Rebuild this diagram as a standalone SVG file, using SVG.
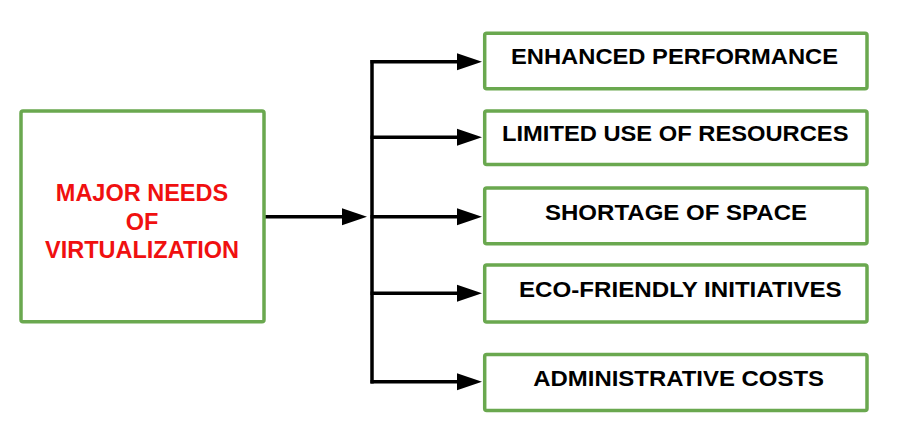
<svg xmlns="http://www.w3.org/2000/svg" width="912" height="446" viewBox="0 0 912 446">
<style>
.box{fill:#fff;stroke:#6aa84f;stroke-width:3.5}
.lbl{font-family:"Liberation Sans",Arial,sans-serif;font-weight:bold;font-size:22.5px;fill:#000}
.main{font-family:"Liberation Sans",Arial,sans-serif;font-weight:bold;font-size:23.5px;fill:#f01010;text-anchor:middle}
.conn{stroke:#000;stroke-width:3.5;fill:none}
</style>
<defs>
<marker id="ah" markerUnits="userSpaceOnUse" markerWidth="26" markerHeight="18" refX="5" refY="8.5" orient="auto" viewBox="0 0 26 17">
<path d="M0,0 L25,8.5 L0,17 z" fill="#000"/>
</marker>
</defs>
<rect width="912" height="446" fill="#fff"/>
<g id="connectors">
<line class="conn" x1="264" y1="216.7" x2="347" y2="216.7" marker-end="url(#ah)"/>
<line class="conn" x1="372" y1="60" x2="372" y2="383.5"/>
<line class="conn" x1="370.5" y1="61.7" x2="462" y2="61.7" marker-end="url(#ah)"/>
<line class="conn" x1="370.5" y1="137.3" x2="462" y2="137.3" marker-end="url(#ah)"/>
<line class="conn" x1="370.5" y1="216.7" x2="462" y2="216.7" marker-end="url(#ah)"/>
<line class="conn" x1="370.5" y1="293.3" x2="462" y2="293.3" marker-end="url(#ah)"/>
<line class="conn" x1="370.5" y1="381.7" x2="462" y2="381.7" marker-end="url(#ah)"/>
</g>
<g id="main">
<rect class="box" x="21" y="111" width="243" height="210.7" rx="2"/>
<text class="main" x="142" y="201">MAJOR NEEDS</text>
<text class="main" x="142" y="230">OF</text>
<text class="main" x="142" y="258">VIRTUALIZATION</text>
</g>
<g id="n1">
<rect class="box" x="484.7" y="33.3" width="382.3" height="55.4" rx="2"/>
<text class="lbl" x="511" y="64" textLength="327" lengthAdjust="spacingAndGlyphs">ENHANCED PERFORMANCE</text>
</g>
<g id="n2">
<rect class="box" x="484.7" y="111" width="382.3" height="53.5" rx="2"/>
<text class="lbl" x="502" y="141.3" textLength="346.5" lengthAdjust="spacingAndGlyphs">LIMITED USE OF RESOURCES</text>
</g>
<g id="n3">
<rect class="box" x="484.7" y="188" width="382.3" height="55.7" rx="2"/>
<text class="lbl" x="545" y="220" textLength="262" lengthAdjust="spacingAndGlyphs">SHORTAGE OF SPACE</text>
</g>
<g id="n4">
<rect class="box" x="484.7" y="265" width="382.3" height="57" rx="2"/>
<text class="lbl" x="519" y="297.3" textLength="322.7" lengthAdjust="spacingAndGlyphs">ECO-FRIENDLY INITIATIVES</text>
</g>
<g id="n5">
<rect class="box" x="484.7" y="354.5" width="382.3" height="56" rx="2"/>
<text class="lbl" x="533.3" y="385.7" textLength="290.7" lengthAdjust="spacingAndGlyphs">ADMINISTRATIVE COSTS</text>
</g>
</svg>
